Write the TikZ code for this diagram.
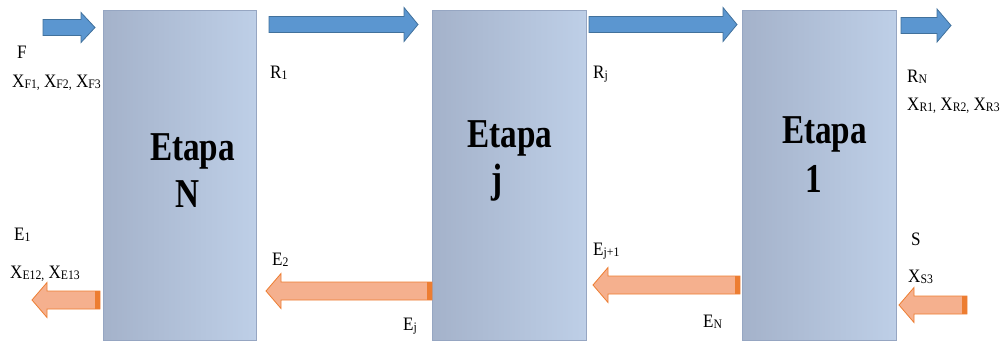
\documentclass[tikz,border=0pt]{standalone}
\usepackage{fontspec}
\setmainfont{Liberation Serif}[FakeStretch=0.9]
\newfontfamily\etapafont{Liberation Serif}[FakeStretch=0.81]
\definecolor{boxL}{RGB}{164,178,202}
\definecolor{boxR}{RGB}{190,207,231}
\definecolor{boxB}{RGB}{150,166,194}
\definecolor{blueF}{RGB}{91,150,208}
\definecolor{blueD}{RGB}{65,113,156}
\definecolor{orF}{RGB}{245,176,142}
\definecolor{orD}{RGB}{237,125,49}
\newcommand\sbx[1]{\raisebox{-1.2pt}{\fontsize{13}{13}\selectfont #1}}
\newcommand\bluearrow[4]{% tail x, tip x, y centre, head half
  \draw[bluearr] (#1,{#3-8}) -- ({#2-14},{#3-8}) -- ({#2-14},{#3-#4}) -- (#2,#3)
    -- ({#2-14},{#3+#4}) -- ({#2-14},{#3+8}) -- (#1,{#3+8}) -- cycle;}
\newcommand\orangearrow[3]{% tip x, tail x, y centre
  \draw[orarr] (#2,{#3-9}) -- ({#1+15},{#3-9}) -- ({#1+15},{#3-17.5}) -- (#1,#3)
    -- ({#1+15},{#3+17.5}) -- ({#1+15},{#3+9}) -- (#2,{#3+9}) -- cycle;
  \fill[orD] ({#2-5},{#3-9}) rectangle (#2,{#3+9});}
\tikzset{
  stagebox/.style={draw=boxB, line width=0.6pt, left color=boxL, right color=boxR,
    minimum width=154, minimum height=330, inner sep=0, outer sep=0},
  bluearr/.style={fill=blueF, draw=blueD, line width=0.8pt, line join=miter},
  orarr/.style={fill=orF, draw=orD, line width=0.8pt, line join=miter},
  lbl/.style={anchor=base west, inner sep=0, text=black,
    font=\fontsize{19}{19}\selectfont},
  etapa/.style={anchor=base, inner sep=0, text=black,
    font=\etapafont\bfseries\fontsize{41}{41}\selectfont},
}
\begin{document}
\begin{tikzpicture}[x=1pt, y=-1pt]
\useasboundingbox (0,0) rectangle (1004,341);
% stage boxes
\node[stagebox, minimum width=153] (N) at (179.5,175) {};
\node[stagebox] (J) at (509,175) {};
\node[stagebox] (One) at (819,175) {};
% stage titles
\node[etapa] (tN1) at (192.5,160) {Etapa};
\node[etapa] (tN2) at (187.5,207) {N};
\node[etapa] (tj1) at (510,147) {Etapa};
\node[etapa] (tj2) at (497,192) {j};
\node[etapa] (t11) at (824.5,143) {Etapa};
\node[etapa] (t12) at (813.5,192) {1};
% blue (raffinate) arrows
\bluearrow{43}{95}{27.5}{15}
\bluearrow{269}{418}{24.5}{17}
\bluearrow{589}{737}{24.5}{17}
\bluearrow{901}{951}{25.5}{16.5}
% orange (extract) arrows
\orangearrow{32}{100}{300}
\orangearrow{266}{432}{291}
\orangearrow{593}{740}{285}
\orangearrow{899}{967}{305}
% labels
\node[lbl] (F) at (17,58) {F};
\node[lbl] (XF) at (12,87) {X\sbx{F1,} X\sbx{F2,} X\sbx{F3}};
\node[lbl] (R1) at (270,78) {R\sbx{1}};
\node[lbl] (Rj) at (593,78) {R\sbx{j}};
\node[lbl] (RN) at (907,82) {R\sbx{N}};
\node[lbl] (XR) at (907,110) {X\sbx{R1,} X\sbx{R2,} X\sbx{R3}};
\node[lbl] (E1) at (14,240) {E\sbx{1}};
\node[lbl] (XE) at (10,278) {X\sbx{E12,} X\sbx{E13}};
\node[lbl] (E2) at (272,265) {E\sbx{2}};
\node[lbl] (Ej) at (403,330) {E\sbx{j}};
\node[lbl] (Ej1) at (593,255) {E\sbx{j+1}};
\node[lbl] (EN) at (703,327) {E\sbx{N}};
\node[lbl] (S) at (911,245) {S};
\node[lbl] (XS) at (908,282) {X\sbx{S3}};
\end{tikzpicture}
\end{document}
